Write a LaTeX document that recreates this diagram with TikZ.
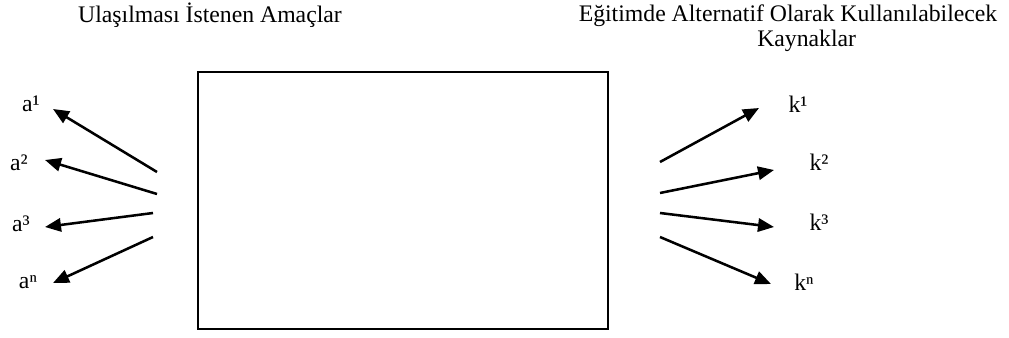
\documentclass[tikz,border=0pt]{standalone}
\usepackage{fontspec}
\setmainfont{Liberation Serif}
\usetikzlibrary{arrows.meta}
\begin{document}
\begin{tikzpicture}[x=0.75pt,y=-0.75pt,
  lbl/.style={inner sep=0pt,font=\fontsize{17.8}{19}\selectfont},
  arr/.style={line width=1.9pt,-{Triangle[length=12pt,width=10pt]}},
  frame/.style={draw,line width=1.4pt}]
\useasboundingbox (0,0) rectangle (1009,338);
% titles
\node[lbl] (tl) at (210,15) {Ulaşılması İstenen Amaçlar};
\node[lbl,align=center] (tr) at (788,28) {Eğitimde Alternatif Olarak Kullanılabilecek\\\hspace*{28pt}Kaynaklar};
% box
\node[frame,minimum width=410*0.75pt,minimum height=257*0.75pt,inner sep=0pt] (box) at (403,200.5) {};
% left labels
\node[lbl] (a1) at (31,104) {a¹};
\node[lbl] (a2) at (19,163) {a²};
\node[lbl] (a3) at (21,224) {a³};
\node[lbl] (an) at (28,282) {aⁿ};
% right labels
\node[lbl] (k1) at (798,104) {k¹};
\node[lbl] (k2) at (819,162) {k²};
\node[lbl] (k3) at (819,222) {k³};
\node[lbl] (kn) at (804,282) {kⁿ};
% arrow endpoints
\coordinate (s1) at (157,172); \coordinate (t1) at (53,109);
\coordinate (s2) at (157,194); \coordinate (t2) at (45,160);
\coordinate (s3) at (153,213); \coordinate (t3) at (45,227);
\coordinate (s4) at (153,237); \coordinate (t4) at (53,283);
\coordinate (r1) at (660,162); \coordinate (u1) at (759,108);
\coordinate (r2) at (660,193); \coordinate (u2) at (774,170);
\coordinate (r3) at (660,213); \coordinate (u3) at (774,227);
\coordinate (r4) at (660,237); \coordinate (u4) at (771,284);
\draw[arr] (s1) -- (t1);
\draw[arr] (s2) -- (t2);
\draw[arr] (s3) -- (t3);
\draw[arr] (s4) -- (t4);
\draw[arr] (r1) -- (u1);
\draw[arr] (r2) -- (u2);
\draw[arr] (r3) -- (u3);
\draw[arr] (r4) -- (u4);
\end{tikzpicture}
\end{document}
